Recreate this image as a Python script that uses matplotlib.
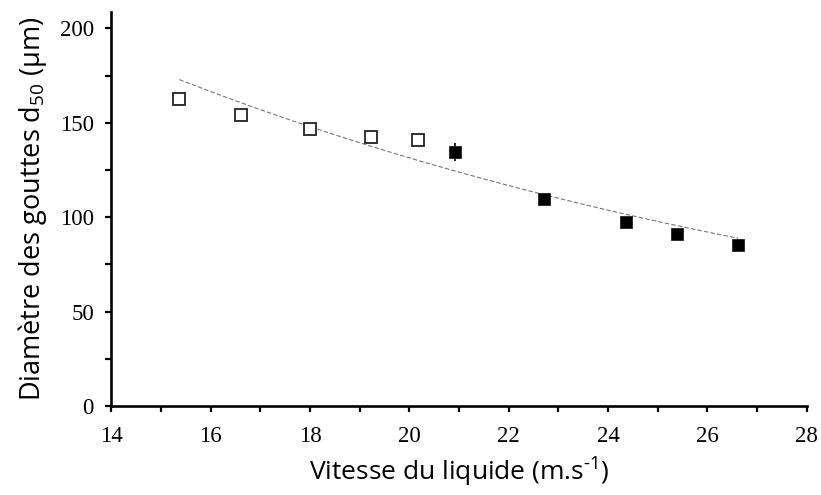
import numpy as np
import matplotlib
matplotlib.use('Agg')
from matplotlib import pyplot as plt
from matplotlib.ticker import MultipleLocator

# open squares (lower liquid velocity)
x_open = [15.37, 16.61, 18.00, 19.23, 20.18]
y_open = [162.5, 154.1, 146.5, 142.4, 140.8]

# filled squares
x_fill = [20.91, 22.71, 24.36, 25.38, 26.62]
y_fill = [134.6, 109.7, 97.6, 91.2, 85.2]
err_fill = [4.7, 0, 0, 0, 0]

# exponential trend line y = a*exp(b*x)
fit_a = 429.5
fit_b = -0.0592
fit_range = [15.37, 26.62]

plt.rcParams['mathtext.fontset'] = 'custom'
plt.rcParams['mathtext.rm'] = 'Open Sans'
plt.rcParams['mathtext.default'] = 'rm'

fig = plt.figure(figsize=(8.21, 4.95), dpi=100)
ax = fig.add_axes([0.1356, 0.1798, 0.8470, 0.7952])

xf = np.linspace(fit_range[0], fit_range[1], 100)
ax.plot(xf, fit_a * np.exp(fit_b * xf), ls=(0, (4, 2)), color='#777777', lw=0.8)

ax.plot(x_open, y_open, 's', ms=8.2, mfc='white', mec='#222222', mew=1.3)
ax.errorbar(x_fill, y_fill, yerr=err_fill, fmt='s', ms=8.8, mfc='black',
            mec='#222222', mew=0.6, ecolor='black', elinewidth=1.2, capsize=0)

ax.set_xlim(14, 28)
ax.set_ylim(0, 208.5)
ax.xaxis.set_major_locator(MultipleLocator(2))
ax.xaxis.set_minor_locator(MultipleLocator(1))
ax.yaxis.set_major_locator(MultipleLocator(50))
ax.yaxis.set_minor_locator(MultipleLocator(25))

for s in ['top', 'right']:
    ax.spines[s].set_visible(False)
for s in ['left', 'bottom']:
    ax.spines[s].set_linewidth(1.9)

ax.tick_params(which='major', direction='out', length=4.5, width=1.6,
               labelsize=16.5)
ax.tick_params(axis='x', which='major', pad=10)
ax.tick_params(axis='y', which='major', pad=8)
ax.tick_params(which='minor', direction='out', length=4, width=1.6)
for lab in ax.get_xticklabels() + ax.get_yticklabels():
    lab.set_fontfamily('Liberation Serif')

ax.set_xlabel('Vitesse du liquide (m.s$^{\\text{-}1}$)', fontsize=19,
              fontfamily='Open Sans', labelpad=6)
ax.set_ylabel('Diamètre des gouttes d$_{50}$ (µm)', fontsize=19.5,
              fontfamily='Open Sans', labelpad=8)

fig.savefig('out.png', dpi=100)
